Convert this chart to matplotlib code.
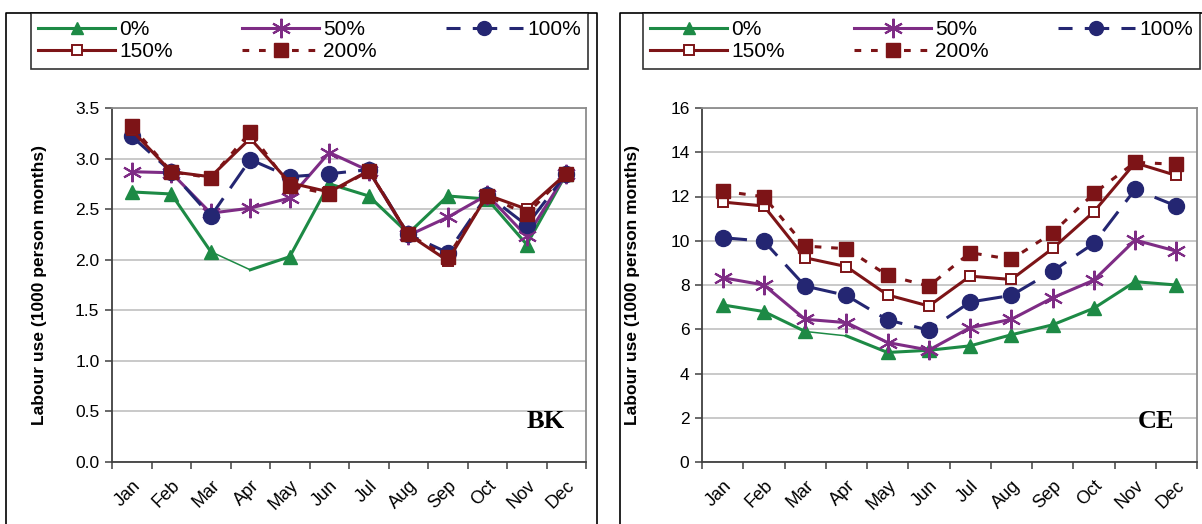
import matplotlib
matplotlib.use("Agg")
import matplotlib.pyplot as plt
from matplotlib.lines import Line2D
from matplotlib.ticker import FormatStrFormatter
import numpy as np

mois = ["Jan", "Feb", "Mar", "Apr", "May", "Jun",
        "Jul", "Aug", "Sep", "Oct", "Nov", "Dec"]
scenarios = ["0%", "50%", "100%", "150%", "200%"]

# BK (1000 person months)
bk_0 = [2.67, 2.65, 2.08, 1.90, 2.03, 2.75, 2.63, 2.26, 2.63, 2.60, 2.15, 2.85]
bk_50 = [2.87, 2.86, 2.46, 2.51, 2.61, 3.06, 2.88, 2.24, 2.42, 2.64, 2.23, 2.85]
bk_100 = [3.22, 2.87, 2.43, 2.99, 2.82, 2.85, 2.89, 2.25, 2.07, 2.64, 2.34, 2.85]
bk_150 = [3.28, 2.87, 2.82, 3.20, 2.76, 2.67, 2.88, 2.25, 1.99, 2.64, 2.50, 2.85]
bk_200 = [3.32, 2.87, 2.81, 3.26, 2.73, 2.65, 2.88, 2.25, 2.03, 2.63, 2.45, 2.85]

# CE (1000 person months)
ce_0 = [7.10, 6.80, 5.90, 5.70, 4.95, 5.05, 5.25, 5.75, 6.20, 6.95, 8.15, 8.00]
ce_50 = [8.33, 8.00, 6.45, 6.30, 5.40, 5.06, 6.07, 6.45, 7.42, 8.22, 10.03, 9.53]
ce_100 = [10.14, 9.98, 7.95, 7.53, 6.42, 5.96, 7.23, 7.53, 8.63, 9.88, 12.32, 11.57]
ce_150 = [11.75, 11.57, 9.23, 8.83, 7.55, 7.05, 8.40, 8.25, 9.65, 11.31, 13.52, 12.95]
ce_200 = [12.24, 11.99, 9.76, 9.64, 8.43, 7.95, 9.46, 9.16, 10.36, 12.14, 13.55, 13.45]

VERT = "#1d8a45"
VIOLET = "#7e2c85"
MARINE = "#242672"
BORDEAUX = "#7d1417"

LW = 2.2
styles = {
    "0%": dict(color=VERT, marker="^", markersize=9.5, linestyle="-"),
    "50%": dict(color=VIOLET, marker=(6, 2, 0), markersize=14, markeredgewidth=1.5,
                linestyle="-"),
    "100%": dict(color=MARINE, marker="o", markersize=11.5, linestyle=(0, (8, 4))),
    "150%": dict(color=BORDEAUX, marker="s", markersize=7, markerfacecolor="white",
                 markeredgewidth=1.4, linestyle="-"),
    "200%": dict(color=BORDEAUX, marker="s", markersize=10.5, linestyle=(0, (2.2, 3.2))),
}

W, H = 1202, 524


def fx(px):
    return px / W


def fy(py):
    return 1 - py / H


def tracer_panneau(ax, series, ymax, pas, fmt, code):
    x = np.arange(len(mois))
    for nom, valeurs in zip(scenarios, series):
        st = dict(styles[nom])
        v = np.array(valeurs)
        if nom == "0%":
            # segment Mar-Apr is thinner and Apr has no marker
            ax.plot(x[2:4], v[2:4], color=st["color"], lw=1.1, zorder=2)
            ax.plot(x[:3], v[:3], color=st["color"], lw=LW, zorder=2)
            ax.plot(x[3:], v[3:], color=st["color"], lw=LW, zorder=2)
            idx = [i for i in range(len(x)) if i != 3]
            ax.plot(x[idx], v[idx], linestyle="none", marker=st["marker"],
                    markersize=st["markersize"], color=st["color"], zorder=2)
        else:
            ax.plot(x, v, lw=LW, zorder=2, **st)

    ax.set_xlim(-0.5, len(mois) - 0.5)
    ax.set_ylim(0, ymax)
    ax.set_yticks(np.arange(0, ymax + pas / 2, pas))
    ax.yaxis.set_major_formatter(FormatStrFormatter(fmt))
    ax.set_xticks(np.arange(-0.5, len(mois)), minor=False)
    ax.set_xticklabels([])
    ax.set_xticks(x, minor=True)
    ax.set_xticklabels(mois, minor=True, rotation=45, ha="right", va="top",
                       rotation_mode="anchor", fontsize=13)
    ax.tick_params(axis="x", which="minor", length=0, pad=11)
    ax.tick_params(axis="x", which="major", length=5, width=1.1, color="#404040")
    ax.tick_params(axis="y", length=5, width=1.1, color="#404040", labelsize=12.5, pad=4)
    ax.grid(axis="y", color="#c0c0c0", lw=1.2, zorder=0)
    ax.set_axisbelow(True)
    for c in ["left", "bottom"]:
        ax.spines[c].set_color("#404040")
        ax.spines[c].set_linewidth(1.3)
    for c in ["top", "right"]:
        ax.spines[c].set_color("#8c8c8c")
        ax.spines[c].set_linewidth(1.3)
    ax.set_ylabel("Labour use (1000 person months)", fontsize=12.5, fontweight="bold")
    ax.text(0.955, 0.115, code, transform=ax.transAxes, ha="right", va="center",
            fontsize=19, fontweight="bold", family="Liberation Serif")


plt.rcParams["font.family"] = ["Liberation Sans", "DejaVu Sans"]
fig = plt.figure(figsize=(W / 100, H / 100), dpi=100)

ax1 = fig.add_axes([fx(112), fy(462), fx(586 - 112), (462 - 108) / H])
ax2 = fig.add_axes([fx(702), fy(462), fx(1197 - 702), (462 - 108) / H])

tracer_panneau(ax1, [bk_0, bk_50, bk_100, bk_150, bk_200], 3.5, 0.5, "%.1f", "BK")
tracer_panneau(ax2, [ce_0, ce_50, ce_100, ce_150, ce_200], 16, 2, "%d", "CE")
ax1.yaxis.set_label_coords(-0.137, 0.5)
ax2.yaxis.set_label_coords(-0.125, 0.5)

# panel frames
for gauche, droite in [(6, 597), (620, 1206)]:
    fig.add_artist(Line2D([fx(gauche), fx(gauche), fx(droite), fx(droite)],
                          [fy(530), fy(13), fy(13), fy(530)],
                          color="black", lw=1.2, transform=fig.transFigure))

# legends, row-wise order: 0% 50% 100% / 150% 200%
ordre = ["0%", "150%", "50%", "200%", "100%"]
for gauche in [31, 643]:
    poignees = [Line2D([], [], lw=LW, **styles[n]) for n in ordre]
    for p in poignees:
        if p.get_marker() == "^":
            p.set_markersize(8)
        elif p.get_marker() == "o":
            p.set_markersize(10)
            # centre the long dash under the marker
            p.set_linestyle((3.4, (8, 4)))
    leg = fig.legend(poignees, ordre, loc="upper left", ncol=3, mode="expand",
                     bbox_to_anchor=(fx(gauche), fy(69), fx(557), (69 - 13) / H),
                     fontsize=15, frameon=True, fancybox=False, edgecolor="black",
                     handlelength=3.7, handletextpad=0.2, labelspacing=0.15,
                     borderpad=0.35, borderaxespad=0, numpoints=1, columnspacing=1.0)
    leg.get_frame().set_linewidth(1.2)

fig.savefig("out.png", dpi=100)
